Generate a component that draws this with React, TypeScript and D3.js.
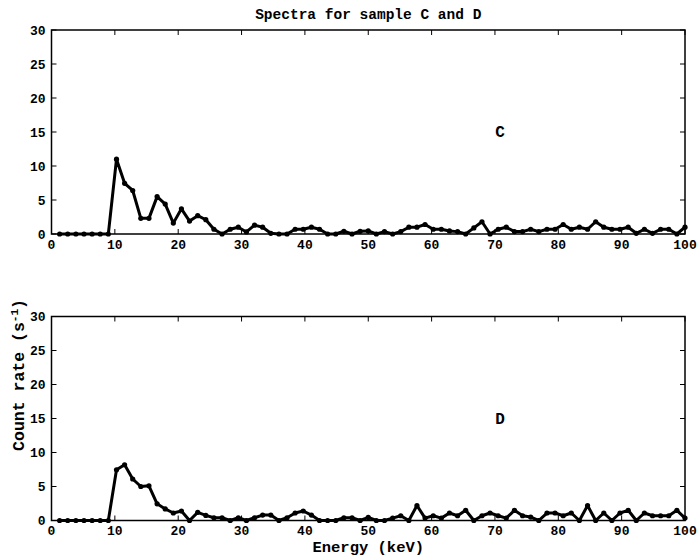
import React from "react";
import * as d3 from "d3";

const energies = [
  1.28, 2.56, 3.85, 5.13, 6.41, 7.69, 8.97, 10.26, 11.54, 12.82, 14.1, 15.38, 16.67,
  17.95, 19.23, 20.51, 21.79, 23.08, 24.36, 25.64, 26.92, 28.21, 29.49, 30.77, 32.05,
  33.33, 34.62, 35.9, 37.18, 38.46, 39.74, 41.03, 42.31, 43.59, 44.87, 46.15, 47.44,
  48.72, 50.0, 51.28, 52.56, 53.85, 55.13, 56.41, 57.69, 58.97, 60.26, 61.54, 62.82,
  64.1, 65.38, 66.67, 67.95, 69.23, 70.51, 71.79, 73.08, 74.36, 75.64, 76.92, 78.21,
  79.49, 80.77, 82.05, 83.33, 84.62, 85.9, 87.18, 88.46, 89.74, 91.03, 92.31, 93.59,
  94.87, 96.15, 97.44, 98.72, 100.0,
];

const sampleC = [
  0, 0, 0, 0, 0, 0, 0, 11.0, 7.45, 6.4, 2.3, 2.3, 5.5, 4.4, 1.6, 3.7, 1.9, 2.7, 2.1,
  0.7, 0, 0.7, 1.0, 0.3, 1.3, 1.0, 0.1, 0, 0, 0.7, 0.7, 1.0, 0.7, 0, 0, 0.4, 0, 0.4,
  0.45, 0, 0.35, 0, 0.35, 1.0, 1.0, 1.4, 0.7, 0.7, 0.45, 0.35, 0, 0.9, 1.8, 0, 0.7, 1.0,
  0.35, 0.35, 0.7, 0.35, 0.7, 0.7, 1.4, 0.7, 1.0, 0.7, 1.8, 1.0, 0.7, 0.7, 1.0, 0.1,
  0.7, 0.1, 0.7, 0.7, 0, 1.0,
];

const sampleD = [
  0, 0, 0, 0, 0, 0, 0, 7.45, 8.2, 6.1, 5.0, 5.1, 2.45, 1.7, 1.1, 1.4, 0, 1.2, 0.75,
  0.4, 0.4, 0, 0.4, 0, 0.4, 0.8, 0.8, 0, 0.4, 1.1, 1.4, 0.8, 0, 0, 0, 0.4, 0.4, 0, 0.45,
  0, 0, 0.35, 0.7, 0, 2.2, 0.35, 0.7, 0.35, 1.1, 0.7, 1.5, 0, 0.7, 1.1, 0.7, 0.35, 1.5,
  0.7, 0.5, 0, 1.1, 1.1, 0.7, 1.1, 0, 2.2, 0, 1.1, 0, 1.1, 1.5, 0, 1.1, 0.7, 0.7, 0.7,
  1.5, 0.35,
];

const xTicks = [0, 10, 20, 30, 40, 50, 60, 70, 80, 90, 100];
const yTicks = [0, 5, 10, 15, 20, 25, 30];
const panels = [
  { name: "C", values: sampleC },
  { name: "D", values: sampleD },
];
const titleText = "Spectra for sample C and D";
const xLabel = "Energy (keV)";

const W = 700;
const H = 556;
const left = 51.5;
const right = 685;
const panelTops = [30, 316.5];
const panelH = 204;
const FONT = "'Liberation Mono', 'DejaVu Sans Mono', monospace";

function Panel({ top, name, values }: { top: number; name: string; values: number[] }) {
  const x = d3.scaleLinear().domain([0, 100]).range([left, right]);
  const y = d3.scaleLinear().domain([0, 30]).range([top + panelH, top]);
  const pts: [number, number][] = energies.map((e, i) => [e, values[i]]);
  const line = d3
    .line<[number, number]>()
    .x((d) => x(d[0]))
    .y((d) => y(d[1]));
  const tl = 5;
  return (
    <g>
      <path d={line(pts) || ""} fill="none" stroke="#000" strokeWidth={3} strokeLinejoin="round" />
      {pts.map((p, i) => (
        <circle key={i} cx={x(p[0])} cy={y(p[1])} r={2.6} fill="#000" />
      ))}
      <rect x={left} y={top} width={right - left} height={panelH} fill="none" stroke="#000" strokeWidth={1.5} />
      {xTicks.map((t) => (
        <g key={"x" + t}>
          <line x1={x(t)} x2={x(t)} y1={y(0)} y2={y(0) - tl} stroke="#000" strokeWidth={1} />
          <line x1={x(t)} x2={x(t)} y1={y(30)} y2={y(30) + tl} stroke="#000" strokeWidth={1} />
          <text
            x={x(t)}
            y={y(0) + 14.5}
            textAnchor="middle"
            fontFamily={FONT}
            fontWeight="bold"
            fontSize={13}
          >
            {t}
          </text>
        </g>
      ))}
      {yTicks.map((t) => (
        <g key={"y" + t}>
          <line x1={left} x2={left + tl} y1={y(t)} y2={y(t)} stroke="#000" strokeWidth={1} />
          <line x1={right} x2={right - tl} y1={y(t)} y2={y(t)} stroke="#000" strokeWidth={1} />
          <text
            x={left - 6}
            y={y(t) + 4.5}
            textAnchor="end"
            fontFamily={FONT}
            fontWeight="bold"
            fontSize={13}
          >
            {t}
          </text>
        </g>
      ))}
      <text
        x={x(70.8)}
        y={y(15) + 5}
        textAnchor="middle"
        fontFamily={FONT}
        fontWeight="bold"
        fontSize={16}
      >
        {name}
      </text>
    </g>
  );
}

export default function App() {
  return (
    <svg
      width={W}
      height={H}
      style={{ position: "fixed", left: 0, top: 0, background: "#fff" }}
    >
      <rect width={W} height={H} fill="#fff" />
      <text
        x={(left + right) / 2}
        y={19}
        textAnchor="middle"
        fontFamily={FONT}
        fontWeight="bold"
        fontSize={14.5}
      >
        {titleText}
      </text>
      {panels.map((p, i) => (
        <Panel key={p.name} top={panelTops[i]} name={p.name} values={p.values} />
      ))}
      <text
        x={(left + right) / 2}
        y={552}
        textAnchor="middle"
        fontFamily={FONT}
        fontWeight="bold"
        fontSize={15.5}
      >
        {xLabel}
      </text>
      <text
        transform={`translate(24, 375) rotate(-90)`}
        textAnchor="middle"
        fontFamily={FONT}
        fontWeight="bold"
        fontSize={16.5}
      >
        Count rate (s
        <tspan dy={-6} fontSize={11}>
          -1
        </tspan>
        <tspan dy={6}>)</tspan>
      </text>
    </svg>
  );
}
